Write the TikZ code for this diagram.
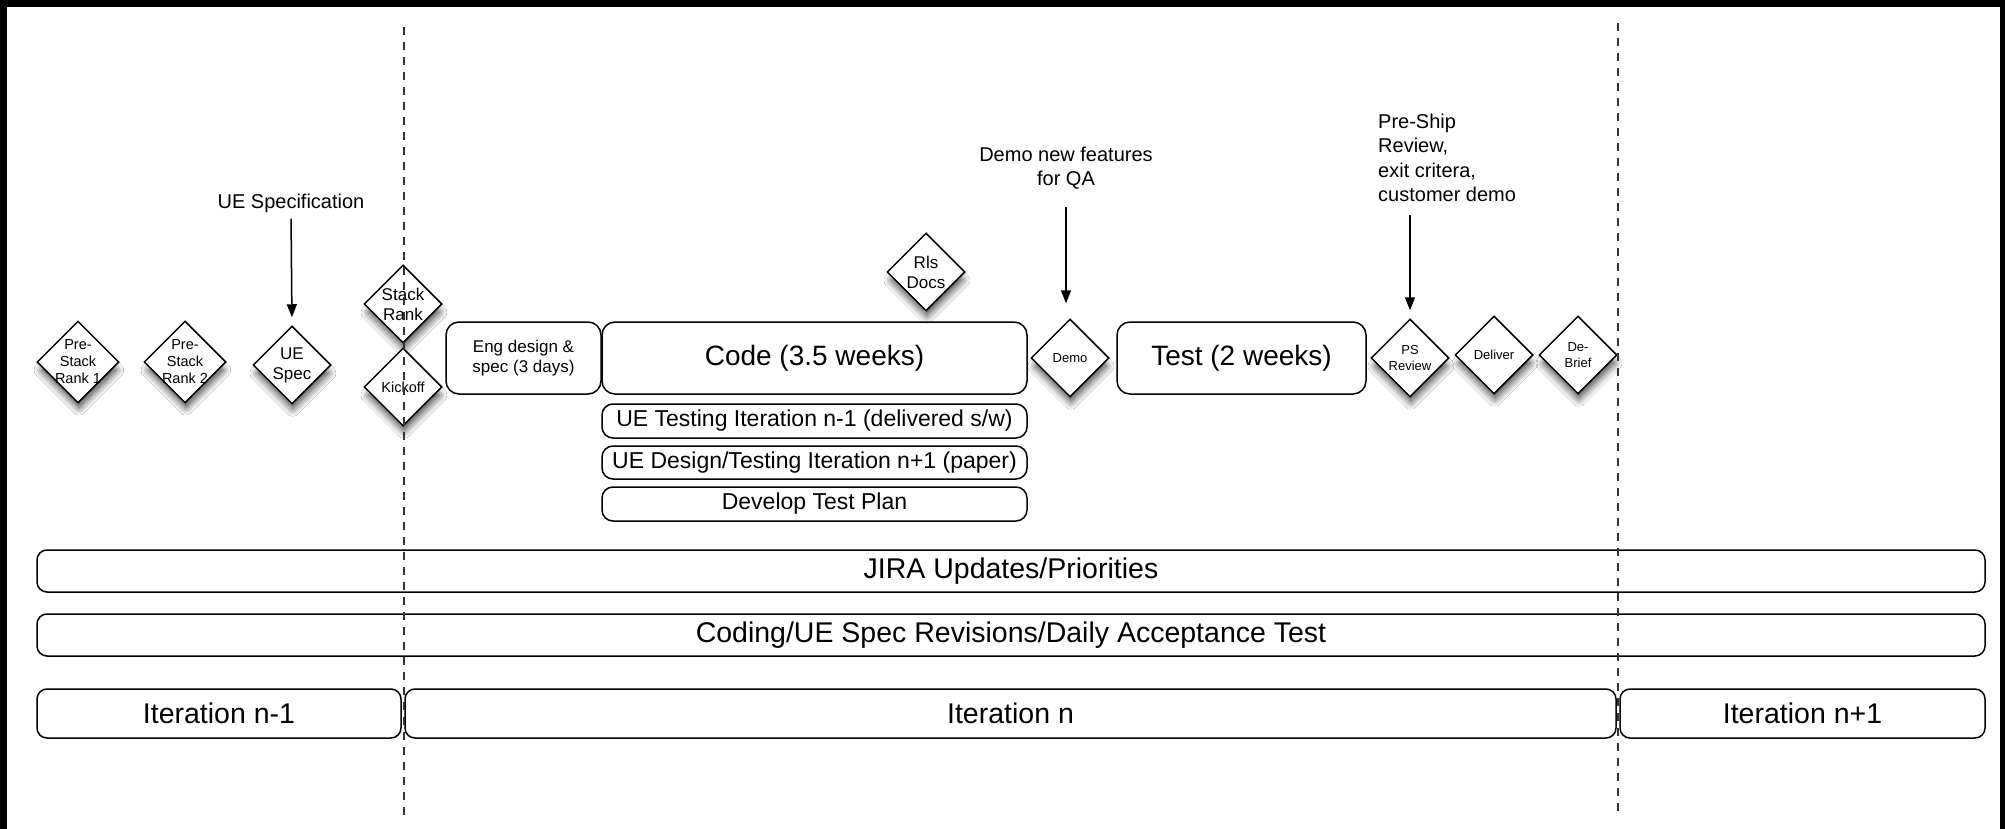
\documentclass[tikz,border=0pt]{standalone}
\usepackage{fontspec}
\setmainfont{Liberation Sans}
\usetikzlibrary{shapes.geometric,arrows.meta,shadows.blur}
\newcommand{\fsz}[2]{\fontsize{#1}{#2}\selectfont}
\tikzset{
  milestone/.style={diamond, aspect=1, draw=black, line width=1.5pt, fill=white,
    inner sep=0pt, minimum width=#1, minimum height=#1,
    blur shadow={shadow xshift=1pt, shadow yshift=-9pt, shadow scale=0.92,
      shadow blur radius=8pt, shadow blur steps=12, shadow opacity=75}},
  milestone/.default=78pt,
  mlabxs/.style={align=center, inner sep=0pt, font=\fsz{13}{15.5}},
  mlabs/.style={align=center, inner sep=0pt, font=\fsz{14.5}{17}},
  mlabm/.style={align=center, inner sep=0pt, font=\fsz{17}{20}},
  phase/.style={draw=black, line width=1.5pt, rounded corners=13pt, fill=white, inner sep=0pt, align=center},
  activity/.style={draw=black, line width=1.5pt, rounded corners=11pt, fill=white, inner sep=0pt,
    minimum width=425pt, minimum height=34pt, font=\fsz{23}{27}},
  track/.style={draw=black, line width=1.5pt, rounded corners=10pt, fill=white, inner sep=0pt, font=\fsz{28.5}{33}},
  note/.style={inner sep=0pt, font=\fsz{20}{24.5}},
  arr/.style={line width=1.5pt, -{Triangle[length=13pt,width=10pt]}},
  divider/.style={line width=1.5pt, draw=black!80, dash pattern=on 8pt off 7pt}
}
\begin{document}
\begin{tikzpicture}[x=1pt,y=-1pt]
\useasboundingbox (0,0) rectangle (2005,829);
\fill[black] (0,0) rectangle (2005,829);
\fill[white] (7,7) rectangle (2000,829);

% background tracks
\node[track, minimum width=1948pt, minimum height=42pt] (jira) at (1011,571) {JIRA Updates/Priorities};
\node[track, minimum width=1948pt, minimum height=42pt] (coding) at (1011,635) {Coding/UE Spec Revisions/Daily Acceptance Test};
\node[track, minimum width=364pt, minimum height=49pt] (itprev) at (219,713.5) {Iteration n-1};
\node[track, minimum width=1211pt, minimum height=49pt] (itcur) at (1010.5,713.5) {Iteration n};
\node[track, minimum width=365pt, minimum height=49pt] (itnext) at (1802.5,713.5) {Iteration n+1};

% phases of the iteration
\node[phase, minimum width=155pt, minimum height=72pt, font=\fsz{17}{20}] (eng) at (523.5,358) {Eng design \&\\spec (3 days)};
\node[phase, minimum width=425pt, minimum height=72pt, font=\fsz{28}{33}] (code) at (814.5,358) {Code (3.5 weeks)};
\node[phase, minimum width=249pt, minimum height=72pt, font=\fsz{28}{33}] (test) at (1241.5,358) {Test (2 weeks)};

% parallel activities
\node[activity] (uetest) at (814.5,421) {UE Testing Iteration n-1 (delivered s/w)};
\node[activity, minimum height=33pt] (uedesign) at (814.5,462.5) {UE Design/Testing Iteration n+1 (paper)};
\node[activity] (testplan) at (814.5,504) {Develop Test Plan};

% milestones
\node[milestone=82pt, label={[mlabs]center:{Pre-\\Stack\\Rank 1}}] (ps1) at (78,362) {};
\node[milestone=82pt, label={[mlabs]center:{Pre-\\Stack\\Rank 2}}] (ps2) at (185,362) {};
\node[milestone, label={[mlabm]center:{UE\\Spec}}] (uespec) at (292,365) {};
\node[milestone, label={[mlabm]center:{Stack\\Rank}}] (stack) at (403,304) {};
\node[milestone, label={[mlabs]center:{Kickoff}}] (kickoff) at (403,387) {};
\node[milestone, label={[mlabm]center:{Rls\\Docs}}] (rls) at (926,272) {};
\node[milestone, label={[mlabxs]center:{Demo}}] (demo) at (1070,358) {};
\node[milestone, label={[mlabxs]center:{PS\\Review}}] (psreview) at (1410,358) {};
\node[milestone, label={[mlabxs]center:{Deliver}}] (deliver) at (1494,355) {};
\node[milestone, label={[mlabxs]center:{De-\\Brief}}] (debrief) at (1578,355) {};

% callouts
\node[note] (uenote) at (291,203) {UE Specification};
\node[note, align=center] (demonote) at (1066,168) {Demo new features\\for QA};
\node[note, align=left, anchor=north west] (psnote) at (1378,113.5) {Pre-Ship\\Review,\\exit critera,\\customer demo};

\draw[arr, shorten <=6pt, shorten >=8pt] (uenote.south) -- (uespec.north);
\draw[arr, shorten <=17pt, shorten >=15pt] (demonote.south) -- (demonote.south |- demo.north);
\draw[arr, shorten <=13pt, shorten >=8pt] (psnote.south -| psreview.north) -- (psreview.north);

% iteration boundaries
\coordinate (lefttop) at (404,27);
\coordinate (leftbot) at (404,815);
\coordinate (righttop) at (1618,23);
\coordinate (rightbot) at (1618,811);
\draw[divider] (lefttop) -- (leftbot);
\draw[divider] (righttop) -- (rightbot);
\end{tikzpicture}
\end{document}
